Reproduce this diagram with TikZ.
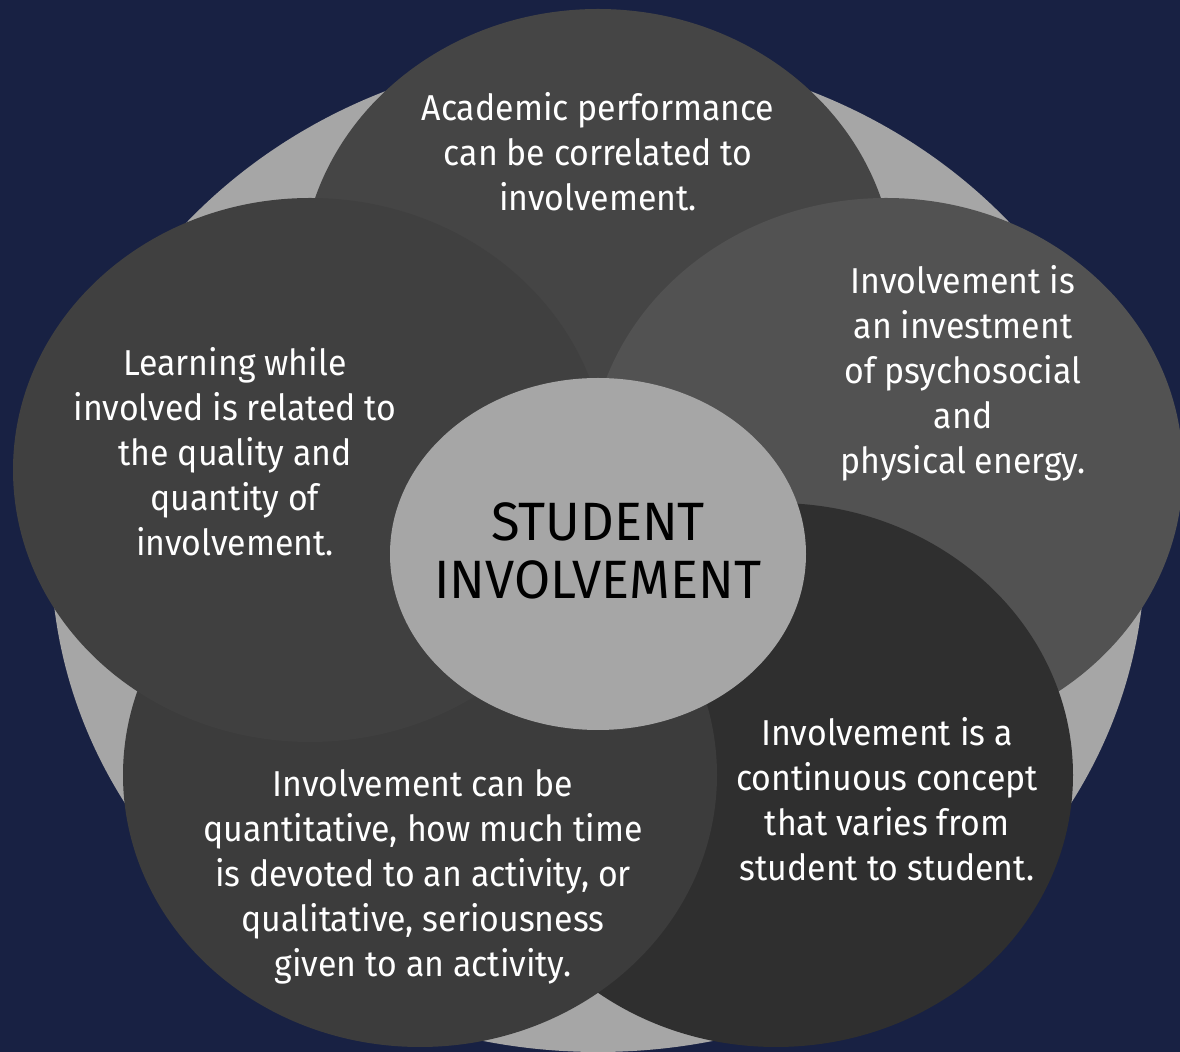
\documentclass[tikz,border=0pt]{standalone}
\usepackage{fontspec}
\setmainfont{Fira Sans}
\newfontfamily\lblfont{Fira Sans}[FakeStretch=0.94]
\newfontfamily\ctrfont{Fira Sans}[FakeStretch=0.97]
\usetikzlibrary{shapes.geometric}
\definecolor{navy}{HTML}{182143}
\definecolor{ringgray}{HTML}{A6A6A6}
\definecolor{ctop}{HTML}{454545}
\definecolor{cleft}{HTML}{404040}
\definecolor{cright}{HTML}{525252}
\definecolor{cbr}{HTML}{2F2F2F}
\definecolor{cbl}{HTML}{3C3C3C}
\definecolor{ccenter}{HTML}{A6A6A6}
\begin{document}
\begin{tikzpicture}[x=0.5pt,y=-0.5pt,
  blob/.style={ellipse, draw=none, inner sep=0pt, minimum width=297pt, minimum height=272pt},
  lbl/.style={text=white, align=center, inner sep=0pt, font=\lblfont\fontsize{18}{22.5}\selectfont}]
\fill[navy] (0,0) rectangle (1180,1052);
\useasboundingbox (0,0) rectangle (1180,1052);
\clip (0,0) rectangle (1180,1052);
\node[ellipse, fill=ringgray, draw=none, inner sep=0pt, minimum width=547pt, minimum height=500pt] (ring) at (598,552) {};
\node[blob, fill=ctop] (etop) at (598,281) {};
\node[blob, fill=cright] (eright) at (886,470) {};
\node[blob, fill=cbr] (ebr) at (776,775) {};
\node[blob, fill=cbl] (ebl) at (420,775) {};
\node[blob, fill=cleft] (eleft) at (310,470) {};
\node[ellipse, fill=ccenter, draw=none, inner sep=0pt, minimum width=208pt, minimum height=176pt] (ecenter) at (598,554) {};
\node[lbl] (ttop) at (598,152) {Academic performance\\can be correlated to\\involvement.};
\node[lbl] (tleft) at (235,452) {Learning while\\involved is related to\\the quality and\\quantity of\\involvement.};
\node[lbl] (tright) at (963,373) {Involvement is\\an investment\\of psychosocial\\and\\physical energy.};
\node[lbl] (tbr) at (887,799) {Involvement is a\\continuous concept\\that varies from\\student to student.};
\node[lbl] (tbl) at (423,877) {Involvement can be\\quantitative, how much time\\is devoted to an activity, or\\qualitative, seriousness\\given to an activity.};
\node[text=black, align=center, inner sep=0pt, font=\ctrfont\fontsize{27}{29}\selectfont] (tcenter) at (598,551) {STUDENT\\INVOLVEMENT};
\end{tikzpicture}
\end{document}
